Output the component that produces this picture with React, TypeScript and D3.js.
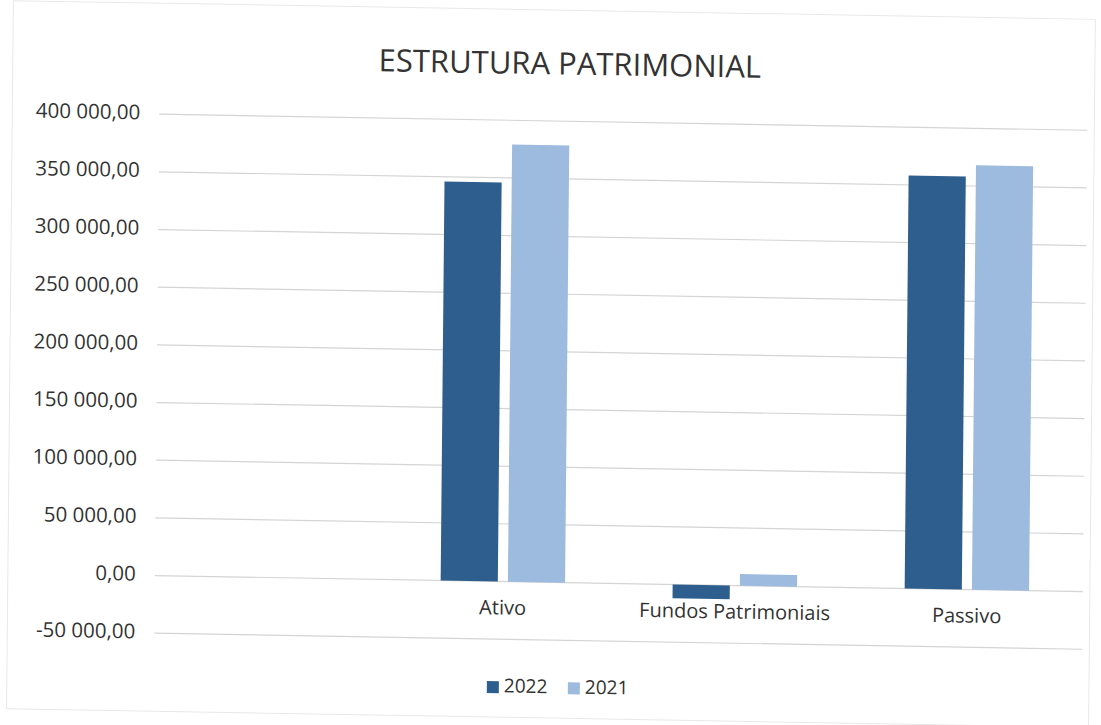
import React from "react";
import * as d3 from "d3";

const title = "ESTRUTURA PATRIMONIAL";
const categories = ["", "Ativo", "Fundos Patrimoniais", "Passivo"];
const seriesNames = ["2022", "2021"];
const values2022 = [null, 346000, -12000, 358000];
const values2021 = [null, 379000, 10000, 368000];
const yTicks = [-50000, 0, 50000, 100000, 150000, 200000, 250000, 300000, 350000, 400000];
const colors = ["#2e5e8e", "#9dbbde"];

const W = 1101;
const H = 725;
const plotLeft = 157;
const plotRight = 1085;
const plotTop = 121;
const plotBottom = 640;

const fmt = (v: number) => {
  const s = d3.format(",.2f")(v);
  return s.replace(/,/g, " ").replace(".", ",").replace("−", "-");
};

export default function App() {
  const x = d3.scaleBand<string>().domain(categories.map((c, i) => String(i))).range([plotLeft, plotRight]).paddingInner(0).paddingOuter(0);
  const y = d3.scaleLinear().domain([-50000, 400000]).range([plotBottom, plotTop]);
  const inner = d3.scaleBand<string>().domain(seriesNames).range([0, x.bandwidth()]).paddingInner(0.15).paddingOuter(0.8);
  const series = [values2022, values2021];
  const cx = 550, cy = 360;
  const tf = `translate(${cx},${cy}) matrix(1,0.0173,-0.0096,1,0,0) translate(${-cx},${-cy})`;
  const font = "'Open Sans', 'Liberation Sans', sans-serif";
  return (
    <svg width={W} height={H} style={{ display: "block", position: "absolute", left: 0, top: 0 }} fontFamily={font}>
      <rect x={0} y={0} width={W} height={H} fill="#ffffff" />
      <g transform={tf}>
        <rect x={10} y={10} width={1082} height={708} fill="none" stroke="#e8e8e8" strokeWidth={1} />
        <text x={567} y={66} textAnchor="middle" dominantBaseline="middle" fontSize={31} fill="#333">{title}</text>
        {yTicks.map((t) => (
          <g key={t}>
            <line x1={plotLeft} x2={plotRight} y1={y(t)} y2={y(t)} stroke="#d4d4d4" strokeWidth={1.2} />
            <text x={138} y={y(t)} textAnchor="end" dominantBaseline="middle" fontSize={20.5} fill="#333">{fmt(t)}</text>
          </g>
        ))}
        {series.map((vals, si) =>
          vals.map((v, ci) =>
            v == null ? null : (
              <rect
                key={`${si}-${ci}`}
                x={(x(String(ci)) as number) + (inner(seriesNames[si]) as number)}
                y={y(Math.max(0, v))}
                width={inner.bandwidth()}
                height={Math.abs(y(v) - y(0))}
                fill={colors[si]}
              />
            )
          )
        )}
        {categories.map((c, i) => (
          <text key={i} x={(x(String(i)) as number) + x.bandwidth() / 2} y={610} textAnchor="middle" dominantBaseline="middle" fontSize={20} fill="#333">{c}</text>
        ))}
        {seriesNames.map((s, i) => (
          <g key={s} transform={`translate(${490 + i * 81},688)`}>
            <rect x={0} y={-6} width={12} height={12} fill={colors[i]} />
            <text x={17} y={0} dominantBaseline="middle" fontSize={19} fill="#333">{s}</text>
          </g>
        ))}
      </g>
    </svg>
  );
}
